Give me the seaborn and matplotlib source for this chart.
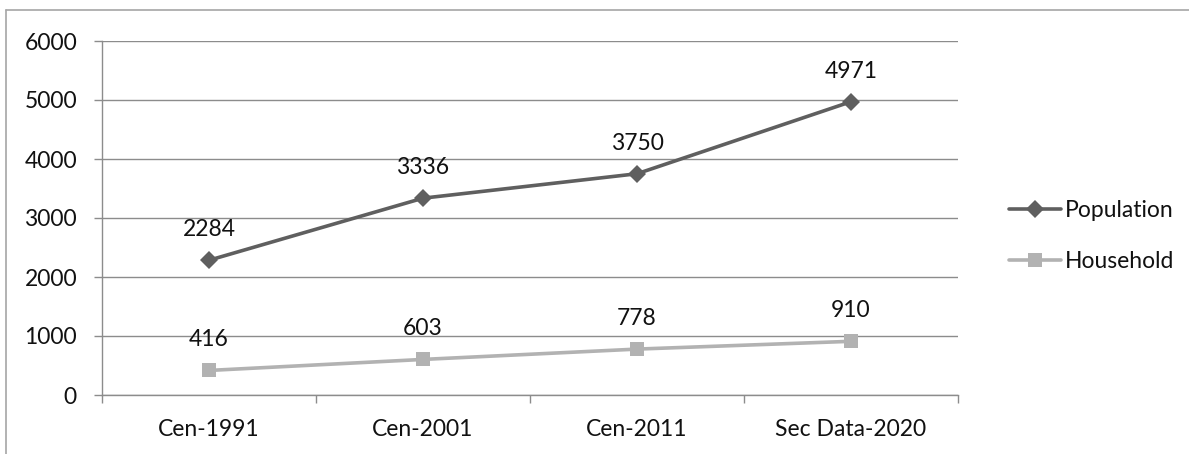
import matplotlib
matplotlib.use("Agg")
import matplotlib.pyplot as plt
import seaborn as sns
import pandas as pd
from matplotlib.lines import Line2D

# Census / survey periods and counts
periods = ["Cen-1991", "Cen-2001", "Cen-2011", "Sec Data-2020"]
population = [2284, 3336, 3750, 4971]
household = [416, 603, 778, 910]
series_names = ["Population", "Household"]
y_ticks = [0, 1000, 2000, 3000, 4000, 5000, 6000]

sns.set_theme(style="white")
plt.rcParams["font.family"] = ["Lato", "DejaVu Sans"]

df = pd.DataFrame({
    "period": periods * 2,
    "pos": list(range(len(periods))) * 2,
    "value": population + household,
    "series": [series_names[0]] * len(periods) + [series_names[1]] * len(periods),
})

colors = {"Population": "#5f5f5f", "Household": "#b2b2b2"}
markers = {"Population": "D", "Household": "s"}
msizes = {"Population": 9, "Household": 10}
FS = 16.5

fig = plt.figure(figsize=(11.89, 4.54), dpi=100)
ax = fig.add_axes([102 / 1189, 59 / 454, 856 / 1189, 354 / 454])

for name in series_names:
    sub = df[df["series"] == name]
    sns.lineplot(data=sub, x="pos", y="value", color=colors[name],
                 linewidth=2.6, marker=markers[name], markersize=msizes[name],
                 markeredgewidth=0, ax=ax, legend=False, zorder=3)
    for x, v in zip(sub["pos"], sub["value"]):
        ax.annotate(f"{v}", (x, v), xytext=(0, 24), textcoords="offset pixels",
                    ha="center", va="baseline", fontsize=FS, color="#111111")

ax.set_xlim(-0.5, len(periods) - 0.5)
ax.set_ylim(0, 6000)
ax.set_yticks(y_ticks)
ax.set_yticklabels([str(t) for t in y_ticks], fontsize=FS, color="#111111")
ax.set_xticks([i - 0.5 for i in range(len(periods) + 1)])
ax.set_xticklabels([])
ax.set_xticks(range(len(periods)), minor=True)
ax.set_xticklabels(periods, minor=True, fontsize=FS, color="#111111")
ax.tick_params(axis="x", which="major", length=6, width=1, color="#8c8c8c",
               direction="out", bottom=True)
ax.tick_params(axis="x", which="minor", length=0, pad=17)
ax.tick_params(axis="y", length=6, width=1, color="#8c8c8c", direction="out",
               left=True, pad=12)
ax.set_xlabel("")
ax.set_ylabel("")

ax.grid(axis="y", color="#8c8c8c", linewidth=1)
ax.set_axisbelow(True)
for side in ["top", "right"]:
    ax.spines[side].set_visible(False)
for side in ["left", "bottom"]:
    ax.spines[side].set_color("#8c8c8c")
    ax.spines[side].set_linewidth(1)

handles = [Line2D([0], [0], color=colors[n], linewidth=2.6, marker=markers[n],
                  markersize=msizes[n], markeredgewidth=0) for n in series_names]
fig.legend(handles, series_names, loc="center left",
           bbox_to_anchor=(988 / 1189, 1 - 236 / 454), frameon=False,
           fontsize=FS, handlelength=2.3, handletextpad=0.15, labelspacing=1.3,
           labelcolor="#111111")

# outer chart frame (top and left edges)
fig.add_artist(Line2D([6 / 1189, 1.0], [1 - 10 / 454, 1 - 10 / 454],
                      transform=fig.transFigure, color="#a6a6a6", linewidth=1.2))
fig.add_artist(Line2D([6 / 1189, 6 / 1189], [0, 1 - 10 / 454],
                      transform=fig.transFigure, color="#a6a6a6", linewidth=1.2))

fig.savefig("out.png", dpi=100, facecolor="white")
